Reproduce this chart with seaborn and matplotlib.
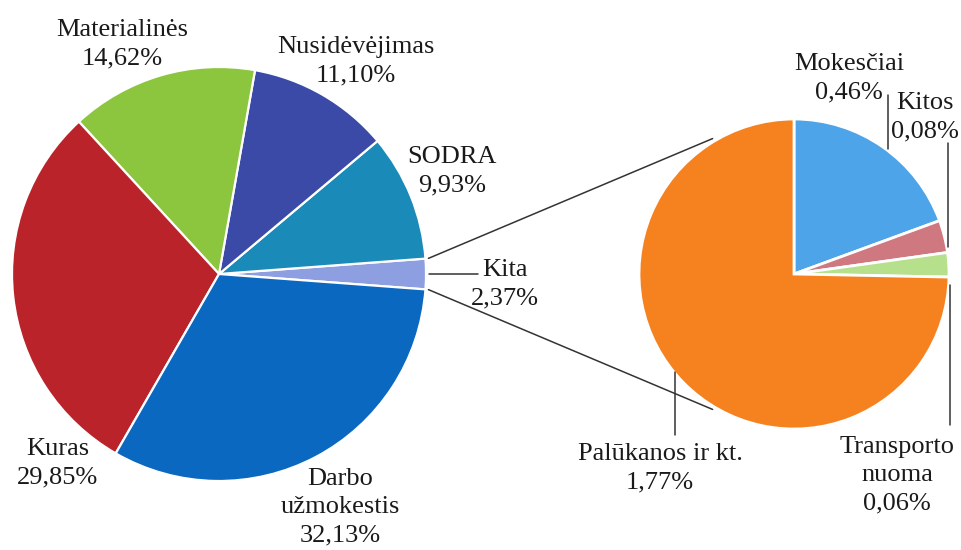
import numpy as np
import matplotlib
matplotlib.use('Agg')
import matplotlib.pyplot as plt
import seaborn as sns

# ---- data ----
main_labels = ['Kita', 'SODRA', 'Nusidėvėjimas', 'Materialinės', 'Kuras', 'Darbo\nužmokestis']
main_values = [2.37, 9.93, 11.10, 14.62, 29.85, 32.13]
main_colors = ['#8d9fe0', '#1a8ab8', '#3a4aa6', '#8cc53e', '#ba2329', '#0b68c0']

sub_labels = ['Mokesčiai', 'Kitos', 'Transporto\nnuoma', 'Palūkanos ir kt.']
sub_values = [0.46, 0.08, 0.06, 1.77]
sub_colors = ['#4ea4e8', '#d07880', '#b6e08c', '#f6821f']

W, H = 962, 550

sns.set_theme(style='white')
plt.rcParams['font.family'] = ['Liberation Serif', 'DejaVu Serif']
FS = 19
LS = 1.36

fig = plt.figure(figsize=(W / 100, H / 100), dpi=100)
ax = fig.add_axes([0, 0, 1, 1])

# main pie (pixel coords, y flipped)
c1, r1 = (219, H - 274), 207
kita_span = main_values[0] / sum(main_values) * 360
w1, _ = ax.pie(main_values, colors=main_colors, startangle=-kita_span / 2,
               center=c1, radius=r1, counterclock=True,
               wedgeprops=dict(edgecolor='white', linewidth=1.6))

# sub pie
c2, r2 = (794, H - 274), 155
w2, _ = ax.pie(sub_values, colors=sub_colors, startangle=90, counterclock=False,
               center=c2, radius=r2,
               wedgeprops=dict(edgecolor='white', linewidth=2))

def edge(c, r, ang):
    a = np.deg2rad(ang)
    return c[0] + r * np.cos(a), c[1] + r * np.sin(a)

# connector lines between Kita slice and the sub pie
k = w1[0]
for a_main, a_sub in [(k.theta2, 121), (k.theta1, 239)]:
    p1 = edge(c1, r1 + 3, a_main)
    p2 = edge(c2, r2 + 3, a_sub)
    ax.plot([p1[0], p2[0]], [p1[1], p2[1]], color='#333333', lw=1.1)

def fmt(v):
    return f'{v:.2f}%'.replace('.', ',')

# main labels (text centre positions in pixels)
main_pos = {
    'Kita': (505, 284),
    'SODRA': (452, 171),
    'Nusidėvėjimas': (356, 61),
    'Materialinės': (122, 44),
    'Kuras': (58, 463),
    'Darbo\nužmokestis': (340, 507),
}
for lab, v in zip(main_labels, main_values):
    x, y = main_pos[lab]
    ax.text(x, H - y, f'{lab}\n{fmt(v)}', ha='center', va='center',
            fontsize=FS, linespacing=LS, color='#1a1a1a')

# Kita leader
p = edge(c1, r1 + 3, (k.theta1 + k.theta2) / 2)
ax.plot([p[0], 478], [p[1], p[1]], color='#333333', lw=1.1)

# sub labels + vertical leaders: text x, text y, leader x, leader end y, anchor angle
sub_pos = {
    'Mokesčiai': (849, 78, 888, 95, 54),
    'Kitos': (925, 117, 948, 143, 10),
    'Transporto\nnuoma': (897, 475, 950, 425, -4),
    'Palūkanos ir kt.': (660, 468, 675, 435, 219),
}
for lab, v in zip(sub_labels, sub_values):
    x, y, lx, ly, ang = sub_pos[lab]
    ax.text(x, H - y, f'{lab}\n{fmt(v)}', ha='center', va='center',
            fontsize=FS, linespacing=LS, color='#1a1a1a')
    p = edge(c2, r2, ang)
    ax.plot([lx, lx], [p[1], H - ly], color='#333333', lw=1.1)

ax.set_xlim(0, W)
ax.set_ylim(0, H)
ax.set_aspect('equal')
ax.axis('off')

fig.savefig('out.png', dpi=100, facecolor='white')
